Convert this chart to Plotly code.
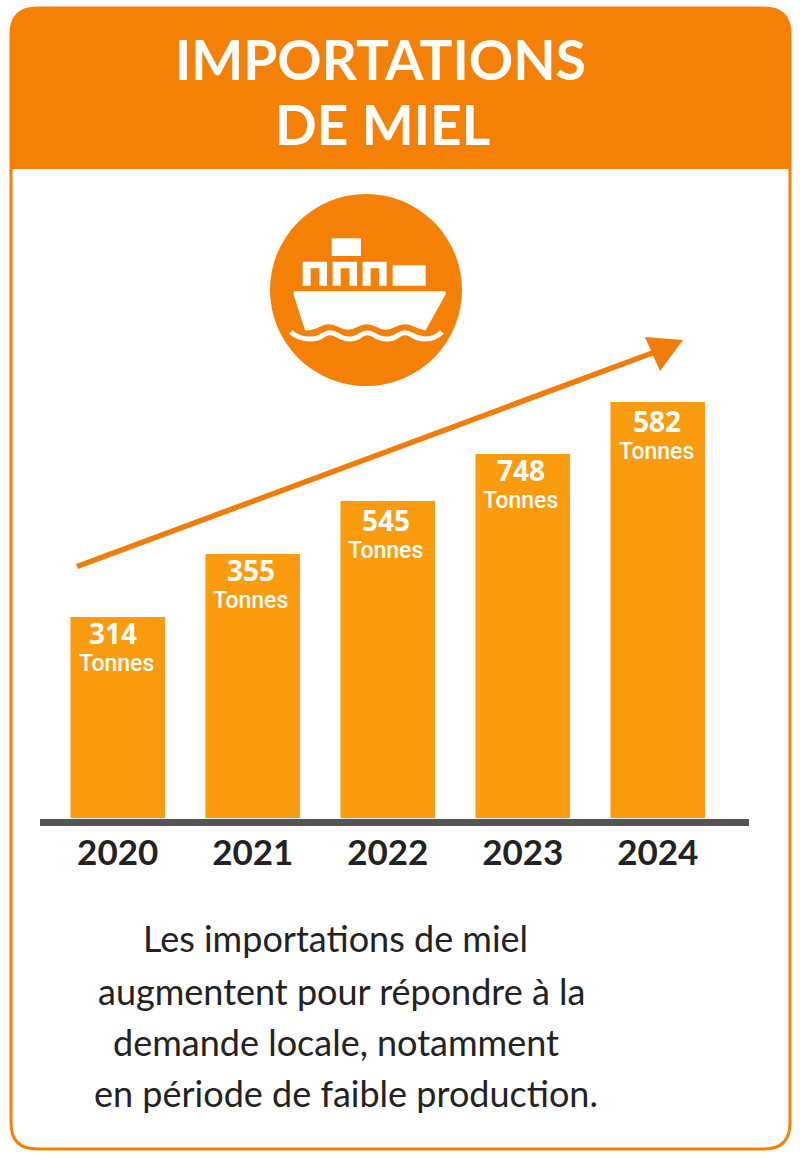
import plotly.graph_objects as go

W, H = 800, 1159

# years and the numbers printed on the bars
years = ["2020", "2021", "2022", "2023", "2024"]
tonnes = [314, 355, 545, 748, 582]
# bar heights as drawn (they do not follow the printed numbers)
bar_heights = [201, 264, 317, 364, 416]

title_lines = ["IMPORTATIONS", "DE MIEL"]
footer_lines = [
    "Les importations de miel",
    "augmentent pour répondre à la",
    "demande locale, notamment",
    "en période de faible production.",
]

ORANGE = "#F58006"
BAR = "#FB9C0E"
DARK = "#222222"


def px(x):
    return x / W


def py(y):
    return 1 - y / H


def path(cmds, fx=px, fy=py):
    # cmds = [("M", x, y), ("Q", x1, y1, x2, y2), ...] in pixels
    out = []
    for c in cmds:
        pts = c[1:]
        coords = []
        for i in range(0, len(pts), 2):
            coords.append(f"{fx(pts[i]):.5f},{fy(pts[i + 1]):.5f}")
        out.append(c[0] + " ".join(coords))
    return " ".join(out)


def icon(cmds):
    return path(cmds, lambda x: px(260 + x / 3), lambda y: py(185 + y / 3))


def add_path(fig, d, fill=None, line=None, width=0):
    fig.add_shape(
        type="path", path=d, xref="paper", yref="paper", layer="above",
        fillcolor=fill if fill else "rgba(0,0,0,0)",
        line=dict(color=line if line else "rgba(0,0,0,0)", width=width),
    )


fig = go.Figure(
    go.Bar(
        x=years,
        y=bar_heights,
        width=0.70,
        marker=dict(color=BAR, line=dict(width=0)),
        hoverinfo="skip",
    )
)

fig.update_layout(
    width=W,
    height=H,
    margin=dict(l=0, r=0, t=0, b=0),
    paper_bgcolor="#FFFFFF",
    plot_bgcolor="rgba(0,0,0,0)",
    showlegend=False,
    # x domain is the dark baseline, 40 to 749 px
    xaxis=dict(
        domain=[40 / W, 749 / W],
        range=[-0.5756, 4.676],
        type="category",
        anchor="free",
        position=(H - 821.5) / H,
        showline=True,
        linecolor="#555555",
        linewidth=7,
        showgrid=False,
        zeroline=False,
        ticks="",
        ticklabelstandoff=-3,
        tickfont=dict(family="Lato", size=35, color=DARK, weight="bold"),
    ),
    yaxis=dict(
        domain=[(H - 818) / H, 1],
        range=[0, 818],
        anchor="free",
        position=0,
        visible=False,
    ),
)

# card frame
r = 26
add_path(fig, path([("M", 10.5, 8 + r), ("Q", 10.5, 8, 10.5 + r, 8), ("L", 790.5 - r, 8),
                    ("Q", 790.5, 8, 790.5, 8 + r), ("L", 790.5, 169), ("L", 10.5, 169), ("Z",)]),
         fill=ORANGE)
add_path(fig, path([("M", 11, 8 + r), ("Q", 11, 8, 11 + r, 8), ("L", 790 - r, 8), ("Q", 790, 8, 790, 8 + r),
                    ("L", 790, 1149 - r), ("Q", 790, 1149, 790 - r, 1149), ("L", 11 + r, 1149),
                    ("Q", 11, 1149, 11, 1149 - r), ("Z",)]),
         line=ORANGE, width=3)

# round badge
fig.add_shape(type="circle", xref="paper", yref="paper", x0=px(270), x1=px(462), y0=py(386), y1=py(194),
              fillcolor=ORANGE, line=dict(width=0), layer="above")

# containers
add_path(fig, icon([("M", 215, 160), ("L", 303, 160), ("L", 303, 213), ("L", 215, 213), ("Z",)]), fill="white")
add_path(fig, icon([("M", 398, 241), ("L", 497, 241), ("L", 497, 302), ("L", 398, 302), ("Z",)]), fill="white")
for x0, x1 in [(128, 201), (218, 291), (308, 380)]:
    add_path(fig, icon([("M", x0, 230), ("L", x1, 230), ("L", x1, 302), ("L", x1 - 23, 302), ("L", x1 - 23, 250),
                        ("L", x0 + 24, 250), ("L", x0 + 24, 302), ("L", x0, 302), ("Z",)]), fill="white")

# hull and wave
add_path(fig, icon([("M", 106, 319), ("L", 552, 319), ("Q", 560, 319, 557, 328), ("L", 497, 436),
                    ("Q", 490, 436, 465, 426), ("Q", 435, 410, 405, 426), ("Q", 378, 442, 350, 426),
                    ("Q", 320, 410, 292, 426), ("Q", 265, 442, 235, 426), ("Q", 205, 410, 178, 426),
                    ("Q", 155, 438, 135, 436), ("L", 101, 330), ("Q", 99, 319, 106, 319), ("Z",)]),
         fill="white")
add_path(fig, icon([("M", 92, 441), ("Q", 115, 462, 150, 462), ("Q", 175, 462, 190, 450), ("Q", 210, 437, 232, 450),
                    ("Q", 250, 462, 268, 462), ("Q", 288, 462, 303, 450), ("Q", 322, 437, 342, 450),
                    ("Q", 360, 462, 380, 462), ("Q", 400, 462, 415, 450), ("Q", 435, 437, 455, 450),
                    ("Q", 475, 462, 495, 462), ("Q", 525, 462, 546, 441)]),
         line="white", width=5)

# trend arrow
fig.add_shape(type="line", xref="paper", yref="paper", x0=px(77), y0=py(566.5), x1=px(655), y1=py(352),
              line=dict(color="#F07C0A", width=5.5), layer="above")
add_path(fig, path([("M", 645, 337), ("L", 683, 340), ("L", 660, 371), ("Z",)]), fill="#F07C0A")

# title
for line, cx, cy in zip(title_lines, [380, 382], [59, 124]):
    fig.add_annotation(text=f"<b>{line}</b>", x=px(cx), y=py(cy), xref="paper", yref="paper",
                       showarrow=False, xanchor="center", yanchor="middle",
                       font=dict(family="Lato", size=55, color="white"))

# labels on top of the bars, x is the category index: a year string
# would be read as a numeric position on the axis
num_shift = [-5, -2, -2, -2, -1]
word_shift = [-1, -2, -2, -2, -1]
drop = [16, 16, 19, 16, 19]
for i, (val, h, ns, ws, d) in enumerate(zip(tonnes, bar_heights, num_shift, word_shift, drop)):
    fig.add_annotation(text=f"<b>{val}</b>", x=i, y=h, xref="x", yref="y", showarrow=False,
                       xanchor="center", yanchor="middle", xshift=ns, yshift=-d,
                       font=dict(family="Open Sans", size=28, color="white"))
    fig.add_annotation(text="Tonnes", x=i, y=h, xref="x", yref="y", showarrow=False,
                       xanchor="center", yanchor="middle", xshift=ws, yshift=-d - 30,
                       font=dict(family="Roboto", size=23, color="white", weight=500))

# footer text
for line, cx, cy in zip(footer_lines, [335, 341, 336, 346], [938, 991, 1042, 1093]):
    fig.add_annotation(text=line, x=px(cx), y=py(cy), xref="paper", yref="paper",
                       showarrow=False, xanchor="center", yanchor="middle",
                       font=dict(family="Lato", size=36, color=DARK))

# the page default of 8px body margin would push the card off the window
fig.write_html("out.html", config={"displayModeBar": False},
               post_script="document.body.style.margin='0';window.dispatchEvent(new Event('resize'));")
